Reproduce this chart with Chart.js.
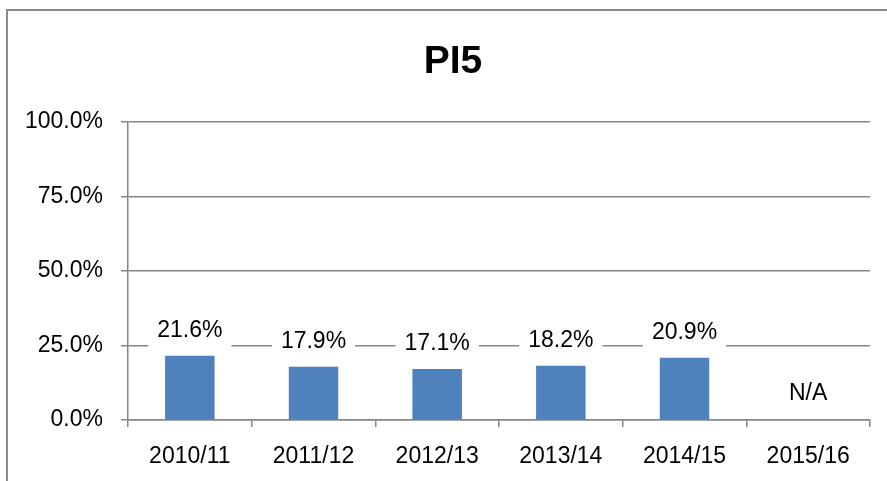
<!DOCTYPE html>
<html>
<head>
<meta charset="utf-8">
<script src="https://cdn.jsdelivr.net/npm/chart.js@4.4.0/dist/chart.umd.min.js"></script>
<style>
  html, body { margin: 0; padding: 0; background: #fff; }
  #wrap { width: 887px; height: 481px; }
</style>
</head>
<body>
<div id="wrap"><canvas id="pi-chart" width="887" height="481"></canvas></div>
<script>
const years = ['2010/11', '2011/12', '2012/13', '2013/14', '2014/15', '2015/16'];
const pi5Values = [21.6, 17.9, 17.1, 18.2, 20.9, null];
const yTicks = [0, 25, 50, 75, 100];
const chartTitle = 'PI5';

const fontFamily = '"Liberation Sans", Arial, sans-serif';
const lineGray = '#868686';

// frame around the chart (runs off the right and bottom edge like the picture)
// plus the title, which sits a bit right of the canvas centre
const framePlugin = {
    id: 'frame',
    beforeDraw(chart) {
        const ctx = chart.ctx;
        ctx.save();
        ctx.strokeStyle = '#8c8c8c';
        ctx.lineWidth = 2;
        ctx.beginPath();
        ctx.moveTo(7, chart.height + 5);
        ctx.lineTo(7, 10);
        ctx.lineTo(chart.width + 5, 10);
        ctx.stroke();

        ctx.fillStyle = '#000';
        ctx.font = 'bold 39px ' + fontFamily;
        ctx.textAlign = 'center';
        ctx.textBaseline = 'middle';
        ctx.fillText(chartTitle, 453, 62);
        ctx.restore();
    }
};

// value labels on a white box, N/A for the missing year
const valueLabels = {
    id: 'valueLabels',
    afterDatasetsDraw(chart) {
        const ctx = chart.ctx;
        const meta = chart.getDatasetMeta(0);
        const yScale = chart.scales.y;
        ctx.save();
        ctx.font = '23px ' + fontFamily;
        ctx.textAlign = 'center';
        ctx.textBaseline = 'middle';
        meta.data.forEach((bar, i) => {
            const v = pi5Values[i];
            if (v === null) {
                ctx.fillStyle = '#000';
                ctx.fillText('N/A', bar.x, yScale.getPixelForValue(9));
                return;
            }
            const text = v.toFixed(1) + '%';
            const w = ctx.measureText(text).width;
            const cy = bar.y - 25;
            ctx.fillStyle = '#fff';
            ctx.fillRect(bar.x - w / 2 - 9, cy - 17, w + 18, 34);
            ctx.fillStyle = '#000';
            ctx.fillText(text, bar.x, cy);
        });
        ctx.restore();
    }
};

new Chart(document.getElementById('pi-chart').getContext('2d'), {
    type: 'bar',
    data: {
        labels: years,
        datasets: [{
            label: chartTitle,
            data: pi5Values,
            backgroundColor: '#4f81bd',
            barPercentage: 0.4,
            categoryPercentage: 1
        }]
    },
    options: {
        responsive: false,
        animation: false,
        layout: { padding: { left: 0, right: 17, top: 122, bottom: 0 } },
        plugins: {
            legend: { display: false },
            tooltip: { enabled: false },
            title: { display: false }
        },
        scales: {
            x: {
                grid: {
                    drawOnChartArea: false,
                    drawTicks: true,
                    tickLength: 7,
                    color: lineGray,
                    lineWidth: 1.5
                },
                border: { color: lineGray, width: 1.5 },
                ticks: {
                    color: '#000',
                    font: { family: fontFamily, size: 23 },
                    padding: 16,
                    maxRotation: 0
                },
                afterFit(scale) { scale.height = 61; }
            },
            y: {
                min: 0,
                max: 100,
                afterBuildTicks(scale) {
                    scale.ticks = yTicks.map(v => ({ value: v }));
                },
                grid: {
                    color: lineGray,
                    lineWidth: 1.5,
                    tickLength: 7
                },
                border: { color: lineGray, width: 1.5 },
                ticks: {
                    color: '#000',
                    font: { family: fontFamily, size: 23 },
                    padding: 18,
                    callback: v => v.toFixed(1) + '%'
                },
                afterFit(scale) { scale.width = 128; }
            }
        }
    },
    plugins: [framePlugin, valueLabels]
});
</script>
</body>
</html>
